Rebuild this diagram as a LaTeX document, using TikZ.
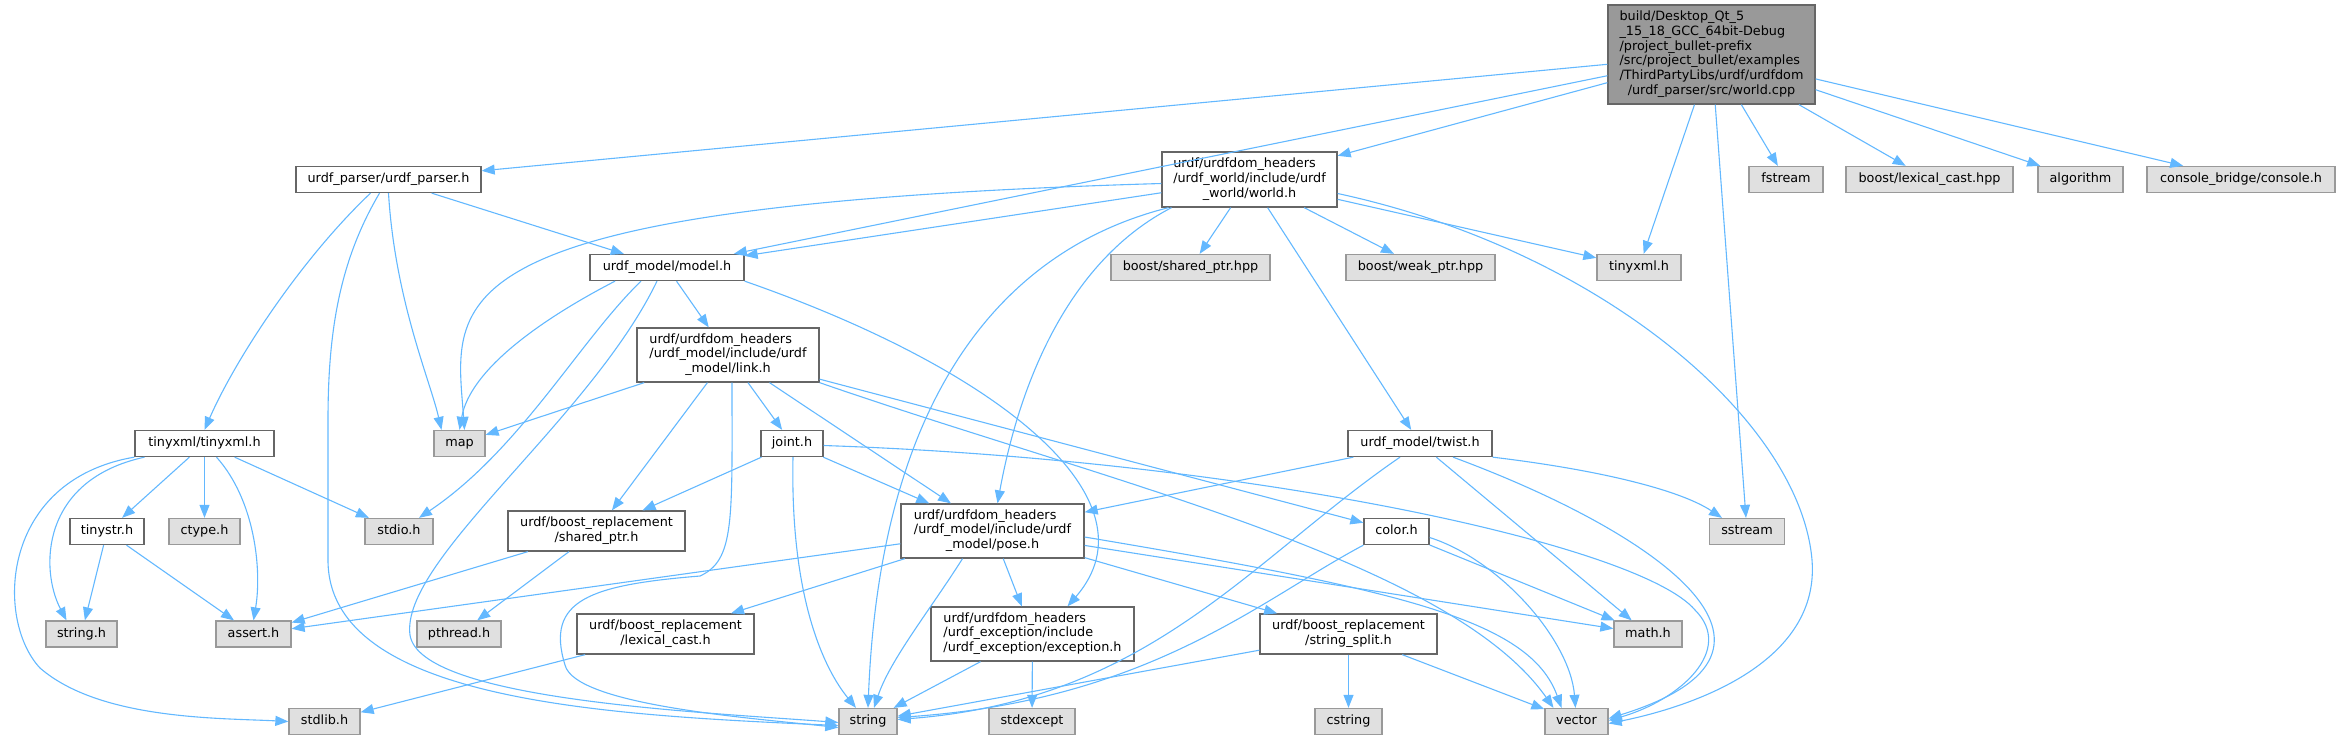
\documentclass[tikz,border=0pt]{standalone}
\usepackage{fontspec}
\setmainfont{DejaVu Sans}
\usetikzlibrary{arrows.meta}
\definecolor{edgec}{HTML}{63B8FF}
\definecolor{wbord}{HTML}{666666}
\definecolor{gfill}{HTML}{E0E0E0}
\definecolor{gbord}{HTML}{999999}
\definecolor{rootfill}{HTML}{999999}
\newcommand{\mlab}[2]{\begin{tabular}{@{}l@{}}#1\\\multicolumn{1}{@{}c@{}}{#2}\end{tabular}}
\begin{document}
\begin{tikzpicture}[x=1pt,y=-1pt,
 base/.style={rectangle, inner xsep=2pt, inner ysep=0pt, line width=1.3pt, font=\fontsize{12.8}{14.8}\selectfont},
 wbox/.style={base, draw=wbord, fill=white, text height=9.7pt, text depth=3pt},
 gbox/.style={base, draw=gbord, fill=gfill, text height=9.7pt, text depth=3pt},
 wml/.style={base, draw=wbord, fill=white},
 rootbox/.style={base, draw=wbord, fill=rootfill},
 sz/.style 2 args={minimum width=#1pt, minimum height=#2pt},
 edge/.style={draw=edgec, line width=1.1pt, -{Triangle[length=13pt,width=10pt]}}
]
\path[use as bounding box] (0,0) rectangle (2339,740);

% nodes
\node[rootbox, sz={207}{99}] (root) at (1711.5,54.5) {\mlab{build/Desktop\_Qt\_5\\\_15\_18\_GCC\_64bit-Debug\\/project\_bullet-prefix\\/src/project\_bullet/examples\\/ThirdPartyLibs/urdf/urdfdom}{/urdf\_parser/src/world.cpp}};
\node[wbox, sz={185}{26}] (parser) at (388.5,179.5) {urdf\_parser/urdf\_parser.h};
\node[wbox, sz={154}{26}] (model) at (667,267.5) {urdf\_model/model.h};
\node[wml, sz={182}{54}] (link) at (728,355) {\mlab{urdf/urdfdom\_headers\\/urdf\_model/include/urdf}{\_model/link.h}};
\node[wml, sz={175}{55}] (world) at (1249.5,179.5) {\mlab{urdf/urdfdom\_headers\\/urdf\_world/include/urdf}{\_world/world.h}};
\node[gbox, sz={159}{26}] (bsp) at (1190.5,267.5) {boost/shared\_ptr.hpp};
\node[gbox, sz={149}{26}] (bwp) at (1420.5,267.5) {boost/weak\_ptr.hpp};
\node[gbox, sz={84}{26}] (tinyxmlh) at (1639,267.5) {tinyxml.h};
\node[gbox, sz={74}{26}] (fstream) at (1786,179.5) {fstream};
\node[gbox, sz={167}{26}] (blc) at (1929.5,179.5) {boost/lexical\_cast.hpp};
\node[gbox, sz={85}{26}] (algo) at (2080.5,179.5) {algorithm};
\node[gbox, sz={188}{26}] (console) at (2241,179.5) {console\_bridge/console.h};
\node[wbox, sz={139}{26}] (tinyxml) at (204.5,443.5) {tinyxml/tinyxml.h};
\node[gbox, sz={51}{26}] (map) at (459.5,443.5) {map};
\node[wbox, sz={62}{26}] (joint) at (792,443.5) {joint.h};
\node[wbox, sz={144}{26}] (twist) at (1420,443.5) {urdf\_model/twist.h};
\node[wbox, sz={74}{26}] (tinystr) at (107,531.5) {tinystr.h};
\node[gbox, sz={71}{26}] (ctype) at (204.5,531.5) {ctype.h};
\node[gbox, sz={68}{26}] (stdio) at (399,531.5) {stdio.h};
\node[wml, sz={177}{40}] (sharedptr) at (596.5,531) {\mlab{urdf/boost\_replacement}{/shared\_ptr.h}};
\node[wml, sz={183}{54}] (pose) at (992.5,531) {\mlab{urdf/urdfdom\_headers\\/urdf\_model/include/urdf}{\_model/pose.h}};
\node[wbox, sz={65}{26}] (color) at (1396.5,531.5) {color.h};
\node[gbox, sz={75}{26}] (sstream) at (1747,531.5) {sstream};
\node[gbox, sz={71}{26}] (stringh) at (81.5,634) {string.h};
\node[gbox, sz={75}{26}] (assert) at (253.5,634) {assert.h};
\node[gbox, sz={84}{26}] (pthread) at (459,634) {pthread.h};
\node[wml, sz={177}{40}] (lexcast) at (665.5,634) {\mlab{urdf/boost\_replacement}{/lexical\_cast.h}};
\node[wml, sz={203}{54}] (exception) at (1032.5,634) {\mlab{urdf/urdfdom\_headers\\/urdf\_exception/include}{/urdf\_exception/exception.h}};
\node[wml, sz={177}{40}] (strsplit) at (1348.5,634) {\mlab{urdf/boost\_replacement}{/string\_split.h}};
\node[gbox, sz={68}{26}] (mathh) at (1648,634) {math.h};
\node[gbox, sz={71}{26}] (stdlib) at (324.5,721.5) {stdlib.h};
\node[gbox, sz={58}{26}] (string) at (868,721.5) {string};
\node[gbox, sz={86}{26}] (stdexcept) at (1032,721.5) {stdexcept};
\node[gbox, sz={67}{26}] (cstring) at (1348.5,721.5) {cstring};
\node[gbox, sz={63}{26}] (vector) at (1576.5,721.5) {vector};

% root
\draw[edge] (root) -- (parser);
\draw[edge] (root) -- (model);
\draw[edge] (root) -- (world);
\draw[edge] (root) -- (tinyxmlh);
\draw[edge] (root) -- (sstream);
\draw[edge] (root) -- (fstream);
\draw[edge] (root) -- (blc);
\draw[edge] (root) -- (algo);
\draw[edge] (root) -- (console);

% parser
\draw[edge] (parser) -- (model);
\draw[edge] ([xshift=-18pt]parser.south) .. controls (300,260) and (235,360) .. (tinyxml.north);
\draw[edge] (parser.south) .. controls (395,300) and (430,380) .. ([xshift=-18pt]map.north);
\draw[edge] ([xshift=-9pt]parser.south) .. controls (340,260) and (328,330) .. (328,420) -- (328,560) .. controls (328,700) and (600,715) .. ([yshift=-4pt]string.west);

% model
\draw[edge] (model) -- (link);
\draw[edge] ([xshift=-52pt]model.south) .. controls (540,320) and (470,370) .. (map.north);
\draw[edge] ([xshift=-26pt]model.south) .. controls (580,340) and (520,450) .. ([xshift=20pt]stdio.north);
\draw[edge] ([xshift=-10pt]model.south) .. controls (590,420) and (400,560) .. (410,635) .. controls (420,700) and (700,712) .. ([yshift=-1pt]string.west);
\draw[edge] (model.south east) .. controls (1000,370) and (1160,500) .. ([xshift=35pt]exception.north);

% world
\draw[edge] (world) -- (model);
\draw[edge] ([yshift=-4pt]world.west) .. controls (420,205) and (455,300) .. ([xshift=5pt]map.north);
\draw[edge] ([xshift=-81pt]world.south) .. controls (1000,250) and (880,400) .. (string.north);
\draw[edge] ([xshift=-78pt]world.south) .. controls (1070,260) and (1020,380) .. ([xshift=5pt]pose.north);
\draw[edge] (world) -- (bsp);
\draw[edge] (world) -- (bwp);
\draw[edge] (world) -- (twist);
\draw[edge] (world) -- (tinyxmlh);
\draw[edge] ([yshift=-14pt]world.east) .. controls (1600,250) and (1800,420) .. (1812,560) .. controls (1820,660) and (1700,705) .. ([yshift=-2pt]vector.east);

% link
\draw[edge] (link) -- (map);
\draw[edge] (link) -- (sharedptr);
\draw[edge] ([xshift=4pt]link.south) .. controls (732,520) and (735,560) .. (700,576) .. controls (590,585) and (545,600) .. (565,665) .. controls (575,705) and (750,718) .. ([yshift=-6pt]string.west);
\draw[edge] (link) -- (joint);
\draw[edge] (link) -- (pose);
\draw[edge] (link) -- (color);
\draw[edge] (link.south east) .. controls (1100,480) and (1450,560) .. ([xshift=-23pt]vector.north);

% joint
\draw[edge] (joint) -- (sharedptr);
\draw[edge] (joint) -- (pose);
\draw[edge] ([xshift=1pt]joint.south) .. controls (790,600) and (825,670) .. ([xshift=-12pt]string.north);
\draw[edge] ([yshift=-2pt]joint.east) .. controls (1250,460) and (1640,545) .. (1695,610) .. controls (1735,650) and (1680,700) .. ([yshift=1pt]vector.east);

% pose
\draw[edge] (pose) -- (assert);
\draw[edge] (pose) -- (lexcast);
\draw[edge] ([xshift=-30pt]pose.south) .. controls (930,610) and (890,660) .. ([xshift=6pt]string.north);
\draw[edge] (pose) -- (exception);
\draw[edge] (pose) -- (strsplit);
\draw[edge] (pose) -- (mathh);
\draw[edge] ([yshift=-6pt]pose.east) .. controls (1400,590) and (1530,620) .. ([xshift=-15pt]vector.north);

% twist
\draw[edge] (twist) -- (pose);
\draw[edge] ([xshift=-20pt]twist.south) .. controls (1250,560) and (1150,700) .. ([yshift=2pt]string.east);
\draw[edge] (twist) -- (mathh);
\draw[edge] ([xshift=33pt]twist.south) .. controls (1650,530) and (1830,650) .. ([yshift=3pt]vector.east);
\draw[edge] (twist.south east) .. controls (1600,470) and (1680,490) .. ([xshift=-25pt]sstream.north);

% color
\draw[edge] (color.south west) .. controls (1260,600) and (1150,700) .. ([yshift=4pt]string.east);
\draw[edge] (color) -- (mathh);
\draw[edge] ([yshift=-6pt]color.east) .. controls (1500,560) and (1570,640) .. ([xshift=-1pt]vector.north);

% string_split
\draw[edge] (strsplit) -- (string);
\draw[edge] (strsplit) -- (cstring);
\draw[edge] (strsplit) -- (vector);

% exception
\draw[edge] (exception) -- (string);
\draw[edge] (exception) -- (stdexcept);

% tinyxml
\draw[edge] (tinyxml) -- (tinystr);
\draw[edge] (tinyxml) -- (ctype);
\draw[edge] (tinyxml) -- (stdio);
\draw[edge] ([xshift=12pt]tinyxml.south) .. controls (255,500) and (262,570) .. (assert.north);
\draw[edge] ([xshift=-60pt]tinyxml.south) .. controls (40,480) and (40,570) .. ([xshift=-15pt]stringh.north);
\draw[edge] (tinyxml.south west) .. controls (0,480) and (-5,620) .. (40,668) .. controls (100,720) and (220,718) .. (stdlib.west);

% others
\draw[edge] (tinystr) -- (stringh);
\draw[edge] (tinystr) -- (assert);
\draw[edge] (sharedptr) -- (assert);
\draw[edge] (sharedptr) -- (pthread);
\draw[edge] (lexcast) -- (stdlib);
\end{tikzpicture}
\end{document}
